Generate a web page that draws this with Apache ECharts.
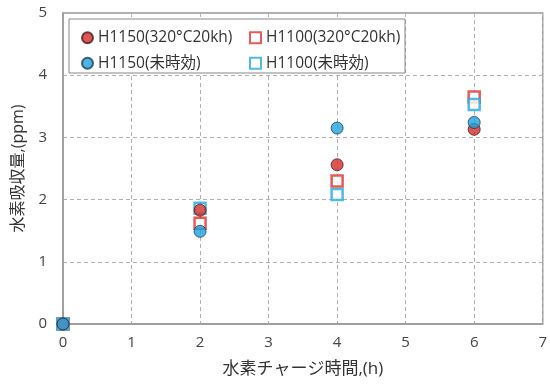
<!DOCTYPE html>
<html><head><meta charset="utf-8">
<script src="https://cdn.jsdelivr.net/npm/echarts@6/dist/echarts.min.js"></script>
<style>html,body{margin:0;padding:0;background:#fff}#c{width:550px;height:385px}</style>
</head><body><div id="c"></div>
<script>
const chargeHours = [0, 2, 4, 6];
const h1150Aged = [0, 1.83, 2.56, 3.13];
const h1100Aged = [0, 1.62, 2.30, 3.65];
const h1150Unaged = [0, 1.49, 3.15, 3.24];
const h1100Unaged = [0, 1.86, 2.08, 3.53];
const names = ['H1150(320°C20kh)', 'H1100(320°C20kh)', 'H1150(未時効)', 'H1100(未時効)'];
const xTicks = [0,1,2,3,4,5,6,7];
const yTicks = [0,1,2,3,4,5];

const pts = arr => chargeHours.map((h,i)=>[h, arr[i]]);
const font = '"Open Sans", "Noto Sans CJK JP", sans-serif';
const chart = echarts.init(document.getElementById('c'));
const txt = {fontFamily: font, fontSize: 15.5, color: '#333'};
chart.setOption({
  animation: false,
  textStyle: {fontFamily: font},
  grid: {left: 63, right: 5, top: 13, bottom: 61, show: true, borderColor: '#999', borderWidth: 1.5},
  xAxis: {type: 'value', min: xTicks[0], max: xTicks[xTicks.length-1], interval: 1,
    name: '水素チャージ時間,(h)', nameLocation: 'middle', nameGap: 37,
    nameTextStyle: {fontFamily: font, fontSize: 17, color: '#333'},
    axisLine: {lineStyle: {color: '#999', width: 1.5}}, axisTick: {show: false},
    axisLabel: {fontFamily: font, fontSize: 15, color: '#444', margin: 11},
    splitLine: {show: true, lineStyle: {type: [4,3], color: '#b0b0b0'}}},
  yAxis: {type: 'value', min: yTicks[0], max: yTicks[yTicks.length-1], interval: 1,
    name: '水素吸収量,(ppm)', nameLocation: 'middle', nameGap: 37,
    nameTextStyle: {fontFamily: font, fontSize: 16, color: '#333'},
    axisLine: {show: true, lineStyle: {color: '#999', width: 1.5}}, axisTick: {show: false},
    axisLabel: {fontFamily: font, fontSize: 15, color: '#444', margin: 16},
    splitLine: {show: true, lineStyle: {type: [4,3], color: '#b0b0b0'}}},
  graphic: [{type: 'rect', shape: {x: 69, y: 19, width: 336, height: 54},
    style: {fill: '#fff', stroke: '#888', lineWidth: 1}, z: 10}],
  legend: [
    {data: [names[0], names[2]], orient: 'vertical', left: 76, top: 25, itemGap: 10,
     itemWidth: 11, itemHeight: 11, textStyle: txt, z: 20},
    {data: [names[1], names[3]], orient: 'vertical', left: 244, top: 25, itemGap: 10,
     itemWidth: 11, itemHeight: 11, textStyle: txt, z: 20}
  ],
  series: [
    {name: names[1], type: 'scatter', data: pts(h1100Aged), symbol: 'rect', symbolSize: 11,
     itemStyle: {color: '#fff', borderColor: '#e03131', borderWidth: 2.5}, z: 2},
    {name: names[3], type: 'scatter', data: pts(h1100Unaged), symbol: 'rect', symbolSize: 11,
     itemStyle: {color: '#fff', borderColor: '#22a9e0', borderWidth: 2.5}, z: 2},
    {name: names[0], type: 'scatter', data: pts(h1150Aged), symbol: 'circle', symbolSize: 12,
     itemStyle: {color: '#d42a2a', borderColor: '#4a1a1a', borderWidth: 1}, z: 3},
    {name: names[2], type: 'scatter', data: pts(h1150Unaged), symbol: 'circle', symbolSize: 12,
     itemStyle: {color: '#1ea3df', borderColor: '#1d3d55', borderWidth: 1}, z: 3}
  ]
});
</script></body></html>
